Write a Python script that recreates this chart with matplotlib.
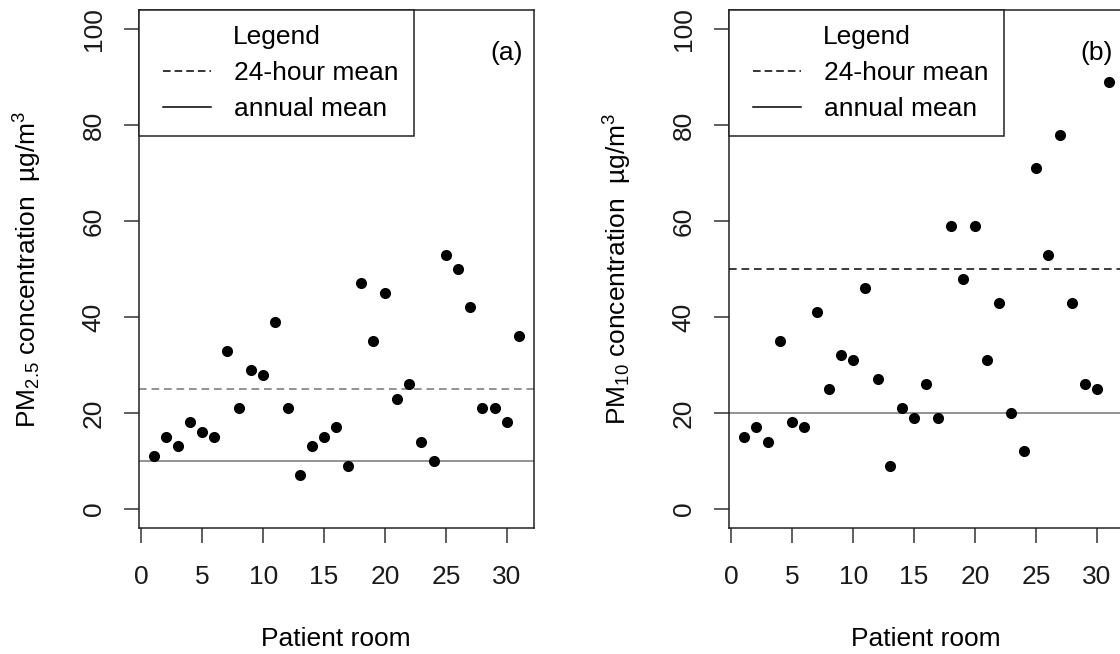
import matplotlib
matplotlib.use('Agg')
import matplotlib.pyplot as plt
from matplotlib.lines import Line2D
from matplotlib.legend_handler import HandlerLine2D

plt.rcParams['font.family'] = ['Liberation Sans', 'DejaVu Sans']
plt.rcParams['mathtext.default'] = 'regular'

# patient rooms 1..31
rooms = list(range(1, 32))

# PM2.5 per room (panel a)
pm25 = [11, 15, 13, 18, 16, 15, 33, 21, 29, 28, 39, 21, 7, 13, 15, 17,
        9, 47, 35, 45, 23, 26, 14, 10, 53, 50, 42, 21, 21, 18, 36]
# PM10 per room (panel b)
pm10 = [15, 17, 14, 35, 18, 17, 41, 25, 32, 31, 46, 27, 9, 21, 19, 26,
        19, 59, 48, 59, 31, 43, 20, 12, 71, 53, 78, 43, 26, 25, 89]

# guideline values: (24-hour mean, annual mean)
limits_a = (25, 10)
limits_b = (50, 20)

ylabels = ['PM$_{2.5}$ concentration  µg/m$^3$',
           'PM$_{10}$ concentration  µg/m$^3$']
tags = ['(a)', '(b)']
dash_cols = ['#808080', '#1a1a1a']

FS = 19

fig = plt.figure(figsize=(11.2, 6.54), dpi=100)
W, H = 1120, 654
# axes boxes in pixels (left, top, right, bottom); panel b runs past the edge
boxes = [(139, 10, 533.5, 528), (729, 10, 1123.5, 528)]

# legend keys start a little in from the frame (R style legend)
fs_px = FS * 100 / 72.0
key_handler = HandlerLine2D(xpad=9 / fs_px)

for i, (vals, lims) in enumerate([(pm25, limits_a), (pm10, limits_b)]):
    l, t, r, b = boxes[i]
    ax = fig.add_axes([l / W, 1 - b / H, (r - l) / W, (b - t) / H])
    ax.scatter(rooms, vals, s=64, color='black', zorder=3, linewidths=0)
    ax.axhline(lims[0], color=dash_cols[i], lw=1.2, ls=(0, (4.6, 2.9)))
    ax.axhline(lims[1], color='#808080', lw=1.2)
    ax.set_xlim(-0.2, 32.2)
    ax.set_ylim(-4, 104)
    ax.set_xticks(range(0, 31, 5))
    ax.set_yticks(range(0, 101, 20))
    ax.tick_params(axis='both', length=11, width=1.1, color='#333333',
                   labelsize=FS, labelcolor='#1a1a1a')
    ax.tick_params(axis='x', pad=16)
    ax.tick_params(axis='y', pad=13)
    for lab in ax.get_yticklabels():
        lab.set_rotation(90)
        lab.set_va('center')
    for sp in ax.spines.values():
        sp.set_linewidth(1.1)
        sp.set_color('#222222')
    ax.set_xlabel('Patient room', fontsize=FS, labelpad=27)
    ax.set_ylabel(ylabels[i], fontsize=FS, labelpad=27)
    ax.text(30, 95, tags[i], fontsize=FS, ha='center', va='center')

    handles = [Line2D([], [], color='black', lw=1.1, ls=(0, (5.0, 2.6))),
               Line2D([], [], color='black', lw=1.1)]
    leg = ax.legend(handles, ['24-hour mean', 'annual mean'], title='Legend',
                    loc='upper left', borderaxespad=0, fontsize=FS,
                    title_fontsize=FS, fancybox=False, framealpha=1,
                    edgecolor='#222222', handlelength=57 / fs_px,
                    handletextpad=23 / fs_px, labelspacing=0.45,
                    borderpad=0.58, handler_map={Line2D: key_handler})
    leg.get_frame().set_linewidth(1.1)

fig.savefig('out.png', dpi=100)
